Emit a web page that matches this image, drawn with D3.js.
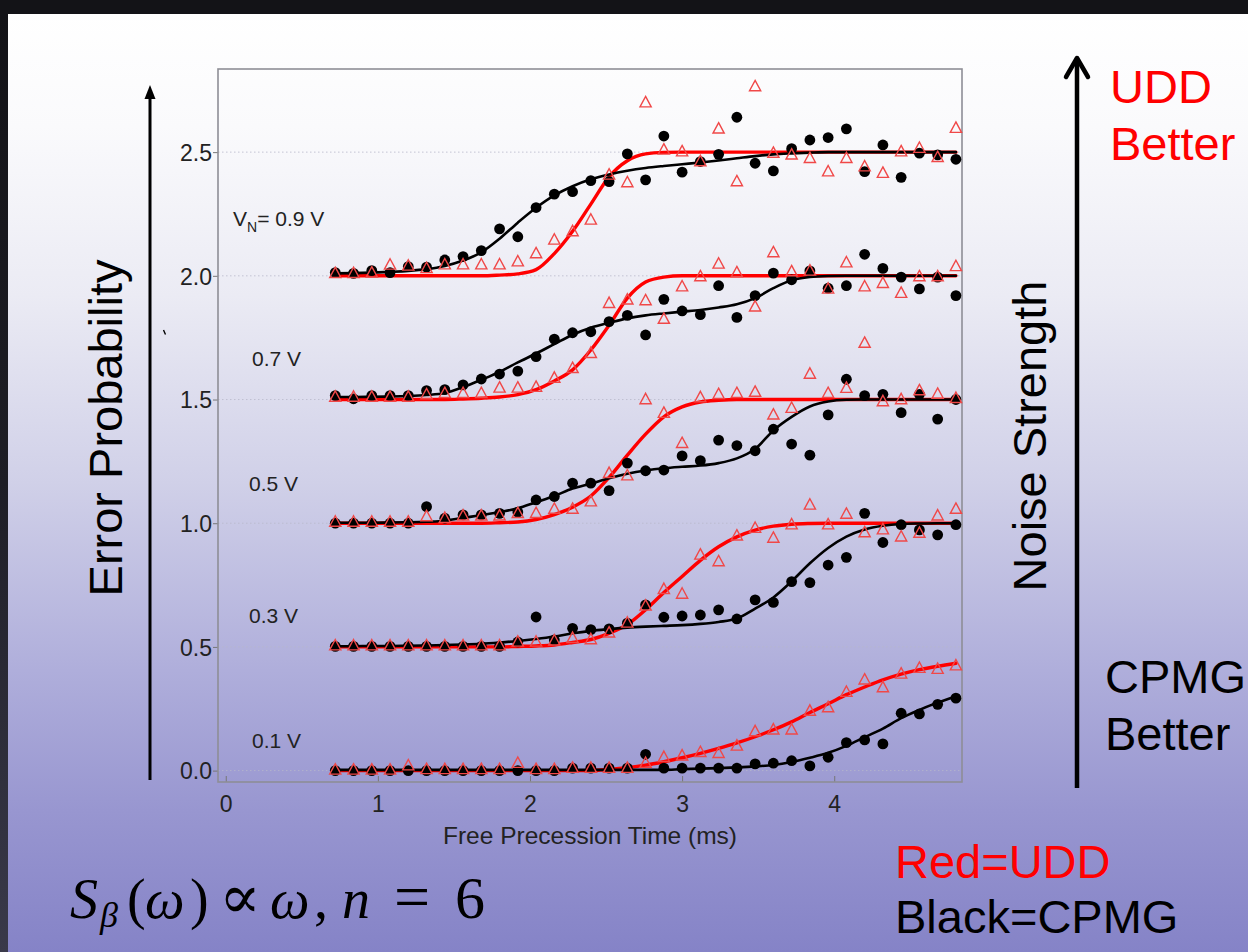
<!DOCTYPE html>
<html>
<head>
<meta charset="utf-8">
<script src="https://cdn.jsdelivr.net/npm/d3@7"></script>
<style>
  html, body { margin: 0; padding: 0; overflow: hidden; background: #121216; }
  svg { display: block; }
</style>
</head>
<body>
<svg id="slide" width="1248" height="952"></svg>
<script>
// Free precession times (ms) at which error probability was measured
const times = [0.72, 0.84, 0.96, 1.08, 1.20, 1.32, 1.44, 1.56, 1.68, 1.80, 1.92, 2.04,
               2.16, 2.28, 2.40, 2.52, 2.64, 2.76, 2.88, 3.00, 3.12, 3.24, 3.36, 3.48,
               3.60, 3.72, 3.84, 3.96, 4.08, 4.20, 4.32, 4.44, 4.56, 4.68, 4.80];

// Noise amplitudes and the vertical offset each curve set is stacked at
const voltages = ["0.1 V", "0.3 V", "0.5 V", "0.7 V", "0.9 V"];
const offsets = [0, 0.5, 1.0, 1.5, 2.0];

// Measured error probability, UDD (red triangles) and CPMG (black dots)
const udd01 = [0.003, 0.003, 0.003, 0.003, 0.02, 0.005, 0.005, 0.005, 0.005, 0.005, 0.03, 0.005,
               0.005, 0.01, 0.01, 0.01, 0.01, 0.03, 0.054, 0.06, 0.074, 0.07, 0.1, 0.158,
               0.165, 0.165, 0.241, 0.255, 0.317, 0.367, 0.336, 0.391, 0.414, 0.41, 0.424];
const cpmg01 = [0.0, 0.0, 0.0, 0.0, 0.0, 0.0, 0.0, 0.0, 0.0, 0.0, 0.0, 0.0,
                0.0, 0.01, 0.01, 0.01, 0.01, 0.066, 0.01, 0.01, 0.01, 0.01, 0.01, 0.027,
                0.03, 0.04, 0.019, 0.054, 0.113, 0.124, 0.108, 0.232, 0.229, 0.268, 0.293];
const udd03 = [0.005, 0.005, 0.005, 0.005, 0.005, 0.005, 0.005, 0.005, 0.005, 0.005, 0.02, 0.02,
               0.025, 0.035, 0.03, 0.057, 0.097, 0.166, 0.233, 0.214, 0.372, 0.345, 0.449, 0.48,
               0.44, 0.494, 0.574, 0.494, 0.537, 0.462, 0.474, 0.445, 0.46, 0.53, 0.557];
const cpmg03 = [0.002, 0.002, 0.002, 0.002, 0.002, 0.002, 0.002, 0.002, 0.002, 0.002, 0.02, 0.121,
                0.028, 0.075, 0.07, 0.073, 0.096, 0.17, 0.12, 0.125, 0.129, 0.15, 0.113, 0.19,
                0.18, 0.264, 0.26, 0.331, 0.362, 0.54, 0.422, 0.494, 0.473, 0.453, 0.494];
const udd05 = [0.005, 0.005, 0.005, 0.005, 0.005, 0.027, 0.02, 0.03, 0.03, 0.03, 0.04, 0.04,
               0.057, 0.057, 0.087, 0.202, 0.192, 0.5, 0.445, 0.323, 0.508, 0.521, 0.525, 0.53,
               0.438, 0.465, 0.603, 0.525, 0.546, 0.728, 0.492, 0.5, 0.536, 0.522, 0.505];
const cpmg05 = [0.0, 0.0, 0.0, 0.0, 0.0, 0.067, 0.02, 0.034, 0.034, 0.04, 0.045, 0.094,
                0.108, 0.162, 0.162, 0.132, 0.243, 0.212, 0.215, 0.272, 0.253, 0.336, 0.314, 0.293,
                0.38, 0.32, 0.275, 0.438, 0.582, 0.516, 0.521, 0.447, 0.521, 0.421, 0.5];
const udd07 = [0.01, 0.01, 0.01, 0.01, 0.01, 0.02, 0.025, 0.025, 0.025, 0.047, 0.047, 0.05,
               0.087, 0.126, 0.187, 0.389, 0.403, 0.40, 0.325, 0.456, 0.497, 0.548, 0.513, 0.375,
               0.594, 0.517, 0.52, 0.447, 0.553, 0.456, 0.47, 0.43, 0.497, 0.497, 0.538];
const cpmg07 = [0.016, 0.003, 0.016, 0.016, 0.016, 0.036, 0.04, 0.059, 0.083, 0.103, 0.115, 0.173,
                0.244, 0.27, 0.274, 0.315, 0.34, 0.261, 0.405, 0.358, 0.343, 0.46, 0.332, 0.42,
                0.511, 0.484, 0.52, 0.45, 0.46, 0.587, 0.53, 0.495, 0.447, 0.495, 0.42];
const udd09 = [0.01, 0.01, 0.012, 0.044, 0.04, 0.03, 0.045, 0.045, 0.045, 0.045, 0.057, 0.09,
               0.145, 0.179, 0.226, 0.408, 0.377, 0.70, 0.509, 0.502, 0.462, 0.594, 0.381, 0.765,
               0.496, 0.489, 0.475, 0.421, 0.475, 0.441, 0.415, 0.502, 0.516, 0.479, 0.597];
const cpmg09 = [0.013, 0.010, 0.021, 0.013, 0.037, 0.035, 0.064, 0.078, 0.102, 0.190, 0.158, 0.276,
                0.330, 0.340, 0.385, 0.381, 0.493, 0.388, 0.565, 0.419, 0.462, 0.491, 0.641, 0.455,
                0.424, 0.514, 0.549, 0.559, 0.594, 0.421, 0.529, 0.398, 0.496, 0.489, 0.471];

// Fitted curves, sampled at the same times
const uddFit01 = [0, 0, 0, 0, 0, 0, 0, 0, 0, 0, 0, 0,
                  0, 0, 0, 0.005, 0.012, 0.022, 0.036, 0.052, 0.07, 0.09, 0.112, 0.137,
                  0.165, 0.197, 0.235, 0.27, 0.307, 0.338, 0.367, 0.39, 0.408, 0.422, 0.434];
const cpmgFit01 = [0.003, 0.003, 0.003, 0.003, 0.003, 0.003, 0.003, 0.003, 0.003, 0.003, 0.003, 0.003,
                   0.003, 0.003, 0.003, 0.003, 0.003, 0.003, 0.003, 0.006, 0.008, 0.01, 0.013, 0.017,
                   0.023, 0.035, 0.052, 0.072, 0.1, 0.135, 0.17, 0.212, 0.245, 0.275, 0.3];
const uddFit03 = [0, 0, 0, 0, 0, 0, 0, 0, 0, 0, 0.002, 0.004,
                  0.008, 0.018, 0.03, 0.055, 0.09, 0.15, 0.22, 0.285, 0.35, 0.405, 0.445, 0.472,
                  0.488, 0.496, 0.499, 0.5, 0.5, 0.5, 0.5, 0.5, 0.5, 0.5, 0.5];
const cpmgFit03 = [0.003, 0.003, 0.004, 0.004, 0.005, 0.006, 0.008, 0.01, 0.013, 0.018, 0.024, 0.032,
                   0.042, 0.055, 0.065, 0.072, 0.078, 0.082, 0.085, 0.088, 0.093, 0.101, 0.115, 0.155,
                   0.2, 0.265, 0.338, 0.4, 0.446, 0.475, 0.49, 0.497, 0.499, 0.5, 0.5];
const uddFit05 = [0, 0, 0, 0, 0, 0, 0, 0, 0, 0.002, 0.005, 0.015,
                  0.035, 0.065, 0.11, 0.185, 0.275, 0.36, 0.43, 0.47, 0.49, 0.497, 0.5, 0.5,
                  0.5, 0.5, 0.5, 0.5, 0.5, 0.5, 0.5, 0.5, 0.5, 0.5, 0.5];
const cpmgFit05 = [0.002, 0.002, 0.002, 0.003, 0.004, 0.006, 0.01, 0.022, 0.032, 0.045, 0.06, 0.085,
                   0.11, 0.14, 0.16, 0.182, 0.2, 0.213, 0.222, 0.228, 0.233, 0.243, 0.262, 0.3,
                   0.375, 0.43, 0.472, 0.492, 0.499, 0.5, 0.5, 0.5, 0.5, 0.5, 0.5];
const uddFit07 = [0, 0, 0, 0, 0, 0, 0, 0.002, 0.005, 0.01, 0.02, 0.04,
                  0.075, 0.12, 0.2, 0.3, 0.41, 0.475, 0.495, 0.5, 0.5, 0.5, 0.5, 0.5,
                  0.5, 0.5, 0.5, 0.5, 0.5, 0.5, 0.5, 0.5, 0.5, 0.5, 0.5];
const cpmgFit07 = [0.01, 0.01, 0.011, 0.012, 0.014, 0.018, 0.026, 0.05, 0.08, 0.112, 0.15, 0.186,
                   0.224, 0.262, 0.29, 0.31, 0.328, 0.34, 0.348, 0.355, 0.362, 0.372, 0.385, 0.41,
                   0.45, 0.482, 0.495, 0.499, 0.5, 0.5, 0.5, 0.5, 0.5, 0.5, 0.5];
const uddFit09 = [0, 0, 0, 0, 0, 0, 0, 0, 0, 0.003, 0.008, 0.025,
                  0.09, 0.18, 0.29, 0.4, 0.465, 0.493, 0.499, 0.5, 0.5, 0.5, 0.5, 0.5,
                  0.5, 0.5, 0.5, 0.5, 0.5, 0.5, 0.5, 0.5, 0.5, 0.5, 0.5];
const cpmgFit09 = [0.01, 0.011, 0.013, 0.016, 0.02, 0.027, 0.04, 0.062, 0.095, 0.15, 0.215, 0.275,
                   0.325, 0.362, 0.39, 0.41, 0.425, 0.436, 0.444, 0.451, 0.458, 0.466, 0.475, 0.484,
                   0.491, 0.495, 0.498, 0.5, 0.5, 0.5, 0.5, 0.5, 0.5, 0.5, 0.5];

// Axis ticks
const yTicks = [0, 0.5, 1.0, 1.5, 2.0, 2.5];
const xTicks = [0, 1, 2, 3, 4];

const levels = [
  { label: voltages[0], offset: offsets[0], udd: udd01, cpmg: cpmg01, uddFit: uddFit01, cpmgFit: cpmgFit01 },
  { label: voltages[1], offset: offsets[1], udd: udd03, cpmg: cpmg03, uddFit: uddFit03, cpmgFit: cpmgFit03 },
  { label: voltages[2], offset: offsets[2], udd: udd05, cpmg: cpmg05, uddFit: uddFit05, cpmgFit: cpmgFit05 },
  { label: voltages[3], offset: offsets[3], udd: udd07, cpmg: cpmg07, uddFit: uddFit07, cpmgFit: cpmgFit07 },
  { label: voltages[4], offset: offsets[4], udd: udd09, cpmg: cpmg09, uddFit: uddFit09, cpmgFit: cpmgFit09 }
];

const W = 1248, H = 952;
const sans = "'Liberation Sans', Arial, Helvetica, sans-serif";
const serif = "'Liberation Serif', 'Times New Roman', 'DejaVu Serif', serif";
const svg = d3.select("#slide");
const defs = svg.append("defs");

// Slide background: white fading into lavender blue
const bg = defs.append("linearGradient").attr("id", "slideBg")
  .attr("x1", 0).attr("y1", 0).attr("x2", 0).attr("y2", 1);
[[0, "#ffffff"], [0.12, "#fafafc"], [0.3, "#ebebf4"], [0.5, "#d0d0e8"],
 [0.7, "#afaedb"], [0.85, "#9896d0"], [1, "#8583c7"]]
  .forEach(([o, c]) => bg.append("stop").attr("offset", o).attr("stop-color", c));
const edge = defs.append("linearGradient").attr("id", "edgeBg")
  .attr("x1", 0).attr("y1", 0).attr("x2", 0).attr("y2", 1);
[[0, "#131317"], [0.5, "#1e1e26"], [1, "#3a3a4a"]]
  .forEach(([o, c]) => edge.append("stop").attr("offset", o).attr("stop-color", c));

svg.append("rect").attr("width", W).attr("height", H).attr("fill", "#131317");
svg.append("rect").attr("x", 0).attr("y", 14).attr("width", 8).attr("height", H - 14).attr("fill", "url(#edgeBg)");
svg.append("rect").attr("x", 8).attr("y", 14).attr("width", W - 8).attr("height", H - 14).attr("fill", "url(#slideBg)");

// Plot scales
const x = d3.scaleLinear().domain([-0.051, 4.84]).range([218, 962]);
const y = d3.scaleLinear().domain([-0.046, 2.836]).range([782, 69]);
const [x0, x1] = x.range();
const [yB, yT] = y.range();

const plot = svg.append("g");

// Dotted reference lines at each stacked baseline
plot.append("g").selectAll("line").data(yTicks).join("line")
  .attr("x1", x0).attr("x2", x1)
  .attr("y1", d => y(d)).attr("y2", d => y(d))
  .attr("stroke", "#b9b9cc").attr("stroke-width", 1)
  .attr("stroke-dasharray", "1.5,2.5").attr("opacity", 0.8);

// Axes
const yAxis = plot.append("g").attr("transform", `translate(${x0},0)`)
  .call(d3.axisLeft(y).tickValues(yTicks).tickFormat(d3.format(".1f")).tickSize(5).tickPadding(1));
yAxis.select(".domain").remove();
yAxis.selectAll("line").attr("stroke", "#777");
yAxis.selectAll("text").attr("font-family", sans).attr("font-size", 23).attr("fill", "#222").attr("dy", "0.36em");

const xAxis = plot.append("g").attr("transform", `translate(0,${yB})`)
  .call(d3.axisBottom(x).tickValues(xTicks).tickFormat(d3.format("d")).tickSizeInner(-6).tickSizeOuter(0));
xAxis.select(".domain").remove();
xAxis.selectAll("line").attr("stroke", "#777");
xAxis.selectAll("text").attr("font-family", sans).attr("font-size", 23).attr("fill", "#222")
  .attr("y", 30).attr("dy", 0);

// Frame
plot.append("rect").attr("x", x0).attr("y", yT).attr("width", x1 - x0).attr("height", yB - yT)
  .attr("fill", "none").attr("stroke", "#8e8e96").attr("stroke-width", 1.6);

plot.append("text").attr("x", (x0 + x1) / 2).attr("y", 844)
  .attr("text-anchor", "middle").attr("font-family", sans).attr("font-size", 24.5).attr("fill", "#222")
  .text("Free Precession Time (ms)");

// Curves and markers
const pts = (vals, off) => vals.map((v, i) => ({ t: times[i], v: v + off }));
const line = d3.line().x(d => x(d.t)).y(d => y(d.v)).curve(d3.curveMonotoneX);
const tri = "M0,-6.2L5.6,4.2L-5.6,4.2Z";

const series = plot.append("g");
levels.forEach(L => {
  series.append("path").datum(pts(L.uddFit, L.offset)).attr("d", line)
    .attr("fill", "none").attr("stroke", "#ff0000").attr("stroke-width", 3.4)
    .attr("stroke-linecap", "round").attr("stroke-linejoin", "round");
  series.append("path").datum(pts(L.cpmgFit, L.offset)).attr("d", line)
    .attr("fill", "none").attr("stroke", "#000").attr("stroke-width", 2.6)
    .attr("stroke-linecap", "round").attr("stroke-linejoin", "round");
});
levels.forEach(L => {
  series.append("g").selectAll("circle").data(pts(L.cpmg, L.offset)).join("circle")
    .attr("cx", d => x(d.t)).attr("cy", d => y(d.v)).attr("r", 5.4).attr("fill", "#000");
});
levels.forEach(L => {
  series.append("g").selectAll("path").data(pts(L.udd, L.offset)).join("path")
    .attr("d", tri).attr("transform", d => `translate(${x(d.t)},${y(d.v)})`)
    .attr("fill", "none").attr("stroke", "#f04848").attr("stroke-width", 1.4);
});

// Noise amplitude labels beside each curve set
const labelX = [252, 249, 249, 252, 233];
const labelLift = [0.091, 0.097, 0.13, 0.135, 0.2];
levels.forEach((L, i) => {
  const t = plot.append("text").attr("x", labelX[i]).attr("y", y(L.offset + labelLift[i]))
    .attr("font-family", sans).attr("font-size", 21).attr("fill", "#222");
  if (i === levels.length - 1) {
    t.append("tspan").text("V");
    t.append("tspan").attr("font-size", 14).attr("dy", 6).text("N");
    t.append("tspan").attr("dy", -6).text("= " + L.label);
  } else {
    t.text(L.label);
  }
});

// Slide annotations
const ann = svg.append("g");
// left arrow (error probability axis)
ann.append("line").attr("x1", 150).attr("x2", 150).attr("y1", 780).attr("y2", 96)
  .attr("stroke", "#000").attr("stroke-width", 3);
ann.append("path").attr("d", "M150,85L155.5,99L144.5,99Z").attr("fill", "#000");
ann.append("path").attr("d", "M163.5,330L165.5,334.5").attr("stroke", "#000").attr("stroke-width", 1.4);
ann.append("text").attr("transform", "translate(122,428) rotate(-90)")
  .attr("text-anchor", "middle").attr("font-family", sans).attr("font-size", 47).attr("fill", "#000")
  .text("Error Probability");

// right arrow (noise strength)
ann.append("line").attr("x1", 1077).attr("x2", 1077).attr("y1", 788).attr("y2", 60)
  .attr("stroke", "#000").attr("stroke-width", 4.5);
ann.append("path").attr("d", "M1066,77L1077,58L1088,77").attr("fill", "none")
  .attr("stroke", "#000").attr("stroke-width", 4.5).attr("stroke-linecap", "round").attr("stroke-linejoin", "round");
ann.append("text").attr("transform", "translate(1046,436) rotate(-90)")
  .attr("text-anchor", "middle").attr("font-family", sans).attr("font-size", 47).attr("fill", "#000")
  .text("Noise Strength");

const big = (tx, ty, str, col) => ann.append("text").attr("x", tx).attr("y", ty)
  .attr("font-family", sans).attr("font-size", 47).attr("fill", col).text(str);
big(1110, 103, "UDD", "#ff0000");
big(1110, 160, "Better", "#ff0000");
big(1105, 693, "CPMG", "#000");
big(1105, 750, "Better", "#000");
big(895, 878, "Red=UDD", "#ff0000");
big(895, 933, "Black=CPMG", "#000");

// Noise spectrum formula
const f = ann.append("text").attr("y", 918).attr("font-family", serif).attr("font-size", 56).attr("fill", "#000");
f.append("tspan").attr("x", 70).attr("font-style", "italic").text("S");
f.append("tspan").attr("x", 100).attr("dy", 9).attr("font-size", 36).attr("font-style", "italic").text("β");
f.append("tspan").attr("x", 127).attr("dy", -9).text("(");
f.append("tspan").attr("x", 145).attr("font-style", "italic").text("ω");
f.append("tspan").attr("x", 190).text(")");
f.append("tspan").attr("x", 219).attr("font-family", "'DejaVu Serif', serif").attr("font-size", 62).text("∝");
f.append("tspan").attr("x", 270).attr("font-style", "italic").text("ω");
f.append("tspan").attr("x", 314).text(",");
f.append("tspan").attr("x", 342).attr("font-style", "italic").text("n");
f.append("tspan").attr("x", 394).attr("font-size", 64).text("=");
f.append("tspan").attr("x", 455).attr("font-size", 60).text("6");
</script>
</body>
</html>
